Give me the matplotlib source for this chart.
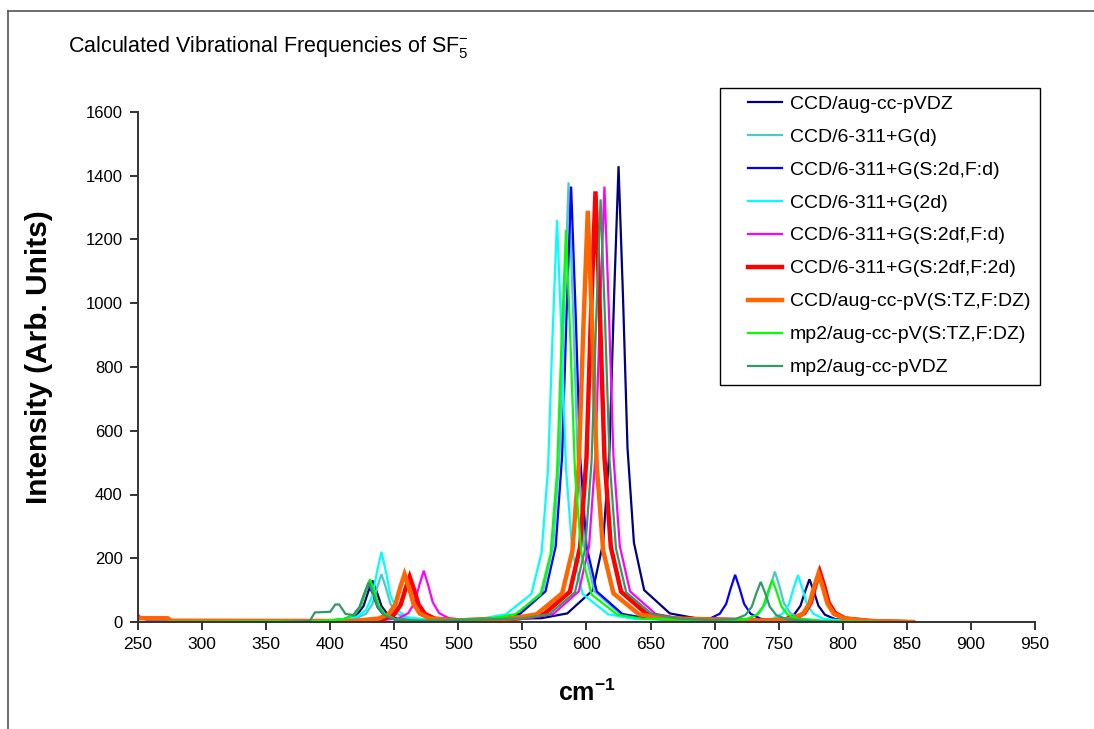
import matplotlib
matplotlib.use("Agg")
import matplotlib.pyplot as plt
from matplotlib.lines import Line2D
from matplotlib.patches import Rectangle

plt.rcParams['font.family'] = ['Liberation Sans', 'DejaVu Sans']
plt.rcParams['mathtext.fontset'] = 'custom'
plt.rcParams['mathtext.rm'] = 'Liberation Sans'
plt.rcParams['mathtext.bf'] = 'Liberation Sans:bold'

# ---------------- data ----------------
labels = ["CCD/aug-cc-pVDZ", "CCD/6-311+G(d)", "CCD/6-311+G(S:2d,F:d)",
          "CCD/6-311+G(2d)", "CCD/6-311+G(S:2df,F:d)", "CCD/6-311+G(S:2df,F:2d)",
          "CCD/aug-cc-pV(S:TZ,F:DZ)", "mp2/aug-cc-pV(S:TZ,F:DZ)", "mp2/aug-cc-pVDZ"]
colors = ["#000080", "#4CC8C8", "#0000FF", "#00FFFF", "#FF00FF",
          "#FF0000", "#FF6600", "#00FF00", "#339966"]
widths = [1.6, 1.6, 1.6, 1.6, 1.6, 3.2, 3.2, 1.6, 1.6]

x_navy = [380, 393, 413, 421, 426, 429.5, 433, 436.5, 440, 445, 453, 473,
          565, 585, 605, 613, 618, 621.5, 625, 628.5, 632, 637, 645, 665, 685,
          734, 754, 762, 767, 770.5, 774, 777.5, 781, 786, 794, 814, 830]
y_navy = [0, 2, 9, 23, 50, 93, 130, 93, 50, 23, 9, 4,
          12, 27, 100, 249, 546, 1018, 1430, 1018, 546, 249, 100, 27, 12,
          5, 9, 23, 51, 95, 134, 95, 51, 23, 9, 2, 0]

x_turq = [380, 400, 420, 428, 433, 436.5, 440, 443.5, 447, 452, 460, 480,
          526, 546, 566, 574, 579, 582.5, 586, 589.5, 593, 598, 606, 626, 646,
          707, 727, 735, 740, 743.5, 747, 750.5, 754, 759, 767, 787, 810]
y_turq = [0, 3, 11, 26, 57, 107, 150, 107, 57, 26, 11, 4,
          11, 26, 97, 240, 527, 982, 1379, 982, 527, 240, 97, 26, 11,
          4, 11, 28, 60, 113, 158, 113, 60, 28, 11, 3, 0]

x_blue = [380, 390, 410, 418, 423, 426.5, 430, 433.5, 437, 442, 450, 470,
          528, 548, 568, 576, 581, 584.5, 588, 591.5, 595, 600, 608, 628, 648,
          676, 696, 704, 709, 712.5, 716, 719.5, 723, 728, 736, 756, 800]
y_blue = [0, 2, 8, 21, 46, 85, 120, 85, 46, 21, 8, 4,
          11, 25, 96, 238, 522, 973, 1366, 973, 522, 238, 96, 25, 11,
          3, 10, 26, 57, 105, 148, 105, 57, 26, 10, 3, 0]

x_cyan = [380, 400, 420, 428, 433, 436.5, 440, 443.5, 447, 452, 460, 480,
          517, 537, 557, 565, 570, 573.5, 577, 580.5, 584, 589, 597, 617, 637,
          725, 745, 753, 758, 761.5, 765, 768.5, 772, 777, 785, 805, 810]
y_cyan = [0, 4, 15, 38, 84, 157, 220, 157, 84, 38, 15, 6,
          10, 24, 88, 219, 482, 898, 1261, 898, 482, 219, 88, 24, 10,
          3, 10, 26, 56, 105, 147, 105, 56, 26, 10, 3, 0]

x_mag = [250, 253, 258, 300, 433, 453, 461, 466, 469.5, 473, 476.5, 480, 485, 493, 513,
         554, 574, 594, 602, 607, 610.5, 614, 617.5, 621, 626, 634, 654, 674,
         742, 762, 770, 775, 778.5, 782, 785.5, 789, 794, 802, 822, 830]
y_mag = [22, 12, 5, 1, 3, 11, 28, 62, 115, 161, 115, 62, 28, 11, 5,
         11, 25, 96, 238, 522, 973, 1366, 973, 522, 238, 96, 25, 11,
         4, 12, 29, 63, 118, 165, 118, 63, 29, 12, 3, 0]

x_red = [380, 422, 442, 450, 455, 458.5, 462, 465.5, 469, 474, 482, 502,
         547, 567, 587, 595, 600, 603.5, 607, 610.5, 614, 619, 627, 647, 667,
         742, 762, 770, 775, 778.5, 782, 785.5, 789, 794, 802, 822, 848]
y_red = [0, 3, 10, 25, 54, 101, 142, 101, 54, 25, 10, 5,
         11, 25, 95, 235, 516, 962, 1351, 962, 516, 235, 95, 25, 11,
         4, 11, 28, 60, 113, 158, 113, 60, 28, 11, 3, 0]

x_orng = [250, 273, 276, 418, 438, 446, 451, 454.5, 458, 461.5, 465, 470, 478, 498,
          541, 561, 581, 589, 594, 597.5, 601, 604.5, 608, 613, 621, 641, 661,
          741, 761, 769, 774, 777.5, 781, 784.5, 788, 793, 801, 821, 855]
y_orng = [12, 12, 4, 3, 11, 26, 57, 107, 150, 107, 57, 26, 11, 5,
          11, 24, 90, 224, 493, 918, 1290, 918, 493, 224, 90, 24, 11,
          4, 11, 26, 58, 108, 152, 108, 58, 26, 11, 3, 0]

x_grn = [250, 391, 411, 419, 424, 427.5, 431, 434.5, 438, 443, 451, 471,
         524, 544, 564, 572, 577, 580.5, 584, 587.5, 591, 596, 604, 624, 644,
         705, 725, 733, 738, 741.5, 745, 748.5, 752, 757, 765, 785, 830]
y_grn = [0, 3, 9, 23, 51, 95, 134, 95, 51, 23, 9, 4,
         10, 23, 86, 214, 470, 876, 1230, 876, 470, 214, 86, 23, 10,
         4, 9, 23, 50, 94, 132, 94, 50, 23, 9, 3, 0]

x_sea = [360, 384, 388, 400, 404, 407, 412, 418, 423, 426.5, 430, 433.5, 437, 442, 450, 470,
         551, 571, 591, 599, 604, 607.5, 611, 614.5, 618, 623, 631, 651, 671,
         696, 716, 724, 729, 732.5, 736, 739.5, 743, 748, 756, 776, 800]
y_sea = [0, 3, 30, 32, 55, 55, 25, 22, 48, 89, 125, 89, 48, 22, 9, 4,
         11, 25, 93, 231, 507, 944, 1326, 944, 507, 231, 93, 25, 11,
         6, 9, 22, 48, 90, 126, 90, 48, 22, 9, 2, 0]

series_x = [x_navy, x_turq, x_blue, x_cyan, x_mag, x_red, x_orng, x_grn, x_sea]
series_y = [y_navy, y_turq, y_blue, y_cyan, y_mag, y_red, y_orng, y_grn, y_sea]

x_ticks = list(range(250, 951, 50))
y_ticks = list(range(0, 1601, 200))

# ---------------- figure ----------------
W, H = 1094, 729
fig = plt.figure(figsize=(W / 100, H / 100), dpi=100)
fig.patch.set_facecolor('white')

ax = fig.add_axes([138 / W, 1 - 622 / H, (1035 - 138) / W, (622 - 112) / H])

for xs, ys, c, lw, lab in zip(series_x, series_y, colors, widths, labels):
    ax.plot(xs, ys, color=c, lw=lw, label=lab, solid_joinstyle='miter')

ax.set_xlim(250, 950)
ax.set_ylim(0, 1600)
ax.set_xticks(x_ticks)
ax.set_yticks(y_ticks)
for s in ['top', 'right']:
    ax.spines[s].set_visible(False)
for s in ['left', 'bottom']:
    ax.spines[s].set_color('#333333')
    ax.spines[s].set_linewidth(1.4)
ax.tick_params(direction='out', length=6, width=1.4, color='#333333', pad=5)
ax.tick_params(axis='y', labelsize=12)
ax.tick_params(axis='x', labelsize=12.5)
ax.set_facecolor('white')

ax.set_ylabel("Intensity (Arb. Units)", fontsize=21.5, fontweight='bold')
ax.yaxis.set_label_coords((53 - 138) / 897, (622 - 357) / 510)
ax.set_xlabel(r"cm$^{\mathbf{-1}}$", fontsize=18, fontweight='bold', labelpad=20)

fig.text(68 / W, 1 - 47 / H, r"Calculated Vibrational Frequencies of SF$_5^{-}$",
         fontsize=15.5, ha='left', va='center')

# legend frame drawn at the reference position
fig.add_artist(Rectangle((720 / W, 1 - 385 / H), 320 / W, 297 / H,
                         transform=fig.transFigure, facecolor='white',
                         edgecolor='black', lw=1.0, zorder=4))
handles = [Line2D([0], [0], color=c, lw=lw) for c, lw in zip(colors, widths)]
leg = fig.legend(handles, labels, loc='upper left',
                 bbox_to_anchor=(748 / W, 1 - 95 / H), bbox_transform=fig.transFigure,
                 fontsize=14, frameon=False,
                 handlelength=1.75, handletextpad=0.4, labelspacing=0.79,
                 borderpad=0.0, borderaxespad=0.0)
leg.set_zorder(5)

# outer chart border (left and top visible)
fig.add_artist(Line2D([8 / W, 8 / W], [0, 1 - 11 / H], transform=fig.transFigure,
                      color='#555555', lw=1.2))
fig.add_artist(Line2D([8 / W, 1], [1 - 11 / H, 1 - 11 / H], transform=fig.transFigure,
                      color='#555555', lw=1.2))

fig.savefig("out.png", dpi=100)
